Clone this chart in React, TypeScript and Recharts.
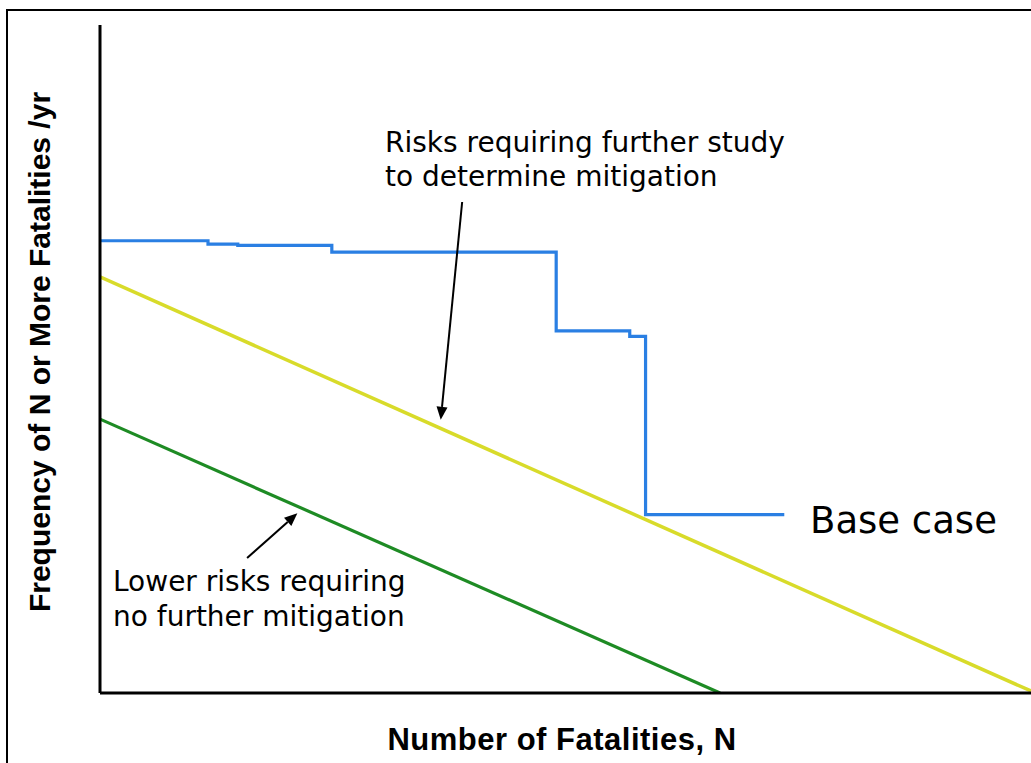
import React from "react";
import { LineChart, Line, XAxis, YAxis, ReferenceLine } from "recharts";

// Base case F-N curve (step), arbitrary units (x: 0-100, y: 0-100)
const baseCaseN = [0, 11.6, 14.8, 24.9, 49.0, 56.9, 58.6, 73.5];
const baseCaseF = [67.7, 67.2, 67.0, 66.0, 54.2, 53.4, 26.7, 26.7];

// Upper criterion line (yellow)
const upperN = [0, 100];
const upperF = [62.3, 0.3];

// Lower criterion line (green)
const lowerN = [0, 66.6];
const lowerF = [41.0, 0];

// Annotation arrows: tail -> tip
const arrowUpperTail = { x: 38.9, y: 73.5 };
const arrowUpperTip = { x: 36.6, y: 40.9 };
const arrowLowerTail = { x: 15.8, y: 20.2 };
const arrowLowerTip = { x: 21.2, y: 26.9 };

const baseCaseData = baseCaseN.map((n, i) => ({ n, f: baseCaseF[i] }));
const upperData = upperN.map((n, i) => ({ n, f: upperF[i] }));
const lowerData = lowerN.map((n, i) => ({ n, f: lowerF[i] }));

const Arrow = (props: any) => {
  const { x1, y1, x2, y2 } = props;
  if ([x1, y1, x2, y2].some((v) => typeof v !== "number" || isNaN(v))) return null;
  const dx = x2 - x1;
  const dy = y2 - y1;
  const len = Math.sqrt(dx * dx + dy * dy);
  const ux = dx / len;
  const uy = dy / len;
  const hl = 13;
  const hw = 5.5;
  const bx = x2 - ux * hl;
  const by = y2 - uy * hl;
  const p1 = `${x2},${y2}`;
  const p2 = `${bx - uy * hw},${by + ux * hw}`;
  const p3 = `${bx + uy * hw},${by - ux * hw}`;
  return (
    <g>
      <line x1={x1} y1={y1} x2={bx} y2={by} stroke="#000" strokeWidth={2} />
      <polygon points={`${p1} ${p2} ${p3}`} fill="#000" />
    </g>
  );
};

const annoFont = "'DejaVu Sans', Verdana, sans-serif";
const labelFont = "'Liberation Sans', Arial, sans-serif";

export default function App() {
  return (
    <div
      style={{
        position: "absolute",
        left: 0,
        top: 0,
        width: 1031,
        height: 763,
        overflow: "hidden",
        background: "#fff",
      }}
    >
      <div
        style={{
          position: "absolute",
          left: 6,
          top: 9,
          width: 1200,
          height: 900,
          border: "2.5px solid #000",
          boxSizing: "border-box",
        }}
      />
      <div style={{ position: "absolute", left: 0, top: 0 }}>
        <LineChart
          width={1031}
          height={763}
          margin={{ top: 25, right: 0, bottom: 69, left: 99 }}
        >
          <XAxis
            type="number"
            dataKey="n"
            domain={[0, 100]}
            allowDataOverflow
            tick={false}
            tickLine={false}
            height={1}
            axisLine={{ stroke: "#000", strokeWidth: 3 }}
          />
          <YAxis
            type="number"
            dataKey="f"
            domain={[0, 100]}
            allowDataOverflow
            tick={false}
            tickLine={false}
            width={1}
            axisLine={{ stroke: "#000", strokeWidth: 3 }}
          />
          <Line
            data={lowerData}
            dataKey="f"
            type="linear"
            stroke="#1E8B24"
            strokeWidth={3.2}
            dot={false}
            isAnimationActive={false}
          />
          <Line
            data={upperData}
            dataKey="f"
            type="linear"
            stroke="#D8DB2A"
            strokeWidth={3.5}
            dot={false}
            isAnimationActive={false}
          />
          <Line
            data={baseCaseData}
            dataKey="f"
            type="stepAfter"
            stroke="#2A7FE3"
            strokeWidth={3.2}
            dot={false}
            isAnimationActive={false}
          />
          <ReferenceLine
            segment={[arrowUpperTail, arrowUpperTip]}
            ifOverflow="visible"
            shape={Arrow}
          />
          <ReferenceLine
            segment={[arrowLowerTail, arrowLowerTip]}
            ifOverflow="visible"
            shape={Arrow}
          />
        </LineChart>
      </div>
      <svg
        width={1031}
        height={763}
        style={{ position: "absolute", left: 0, top: 0, pointerEvents: "none" }}
      >
        <text
          x={562}
          y={750}
          textAnchor="middle"
          fontFamily={labelFont}
          fontWeight="bold"
          fontSize={31}
          letterSpacing={0.5}
          fill="#000"
        >
          Number of Fatalities, N
        </text>
        <text
          transform="translate(50,352) rotate(-90)"
          textAnchor="middle"
          fontFamily={labelFont}
          fontWeight="bold"
          fontSize={30}
          fill="#000"
        >
          Frequency of N or More Fatalities /yr
        </text>
        <text fontFamily={annoFont} fontSize={28} fill="#000">
          <tspan x={385} y={152}>Risks requiring further study</tspan>
          <tspan x={385} y={186}>to determine mitigation</tspan>
        </text>
        <text fontFamily={annoFont} fontSize={28} fill="#000">
          <tspan x={113} y={591}>Lower risks requiring</tspan>
          <tspan x={113} y={626}>no further mitigation</tspan>
        </text>
        <text x={810} y={533} fontFamily={annoFont} fontSize={37} fill="#000">
          Base case
        </text>
      </svg>
    </div>
  );
}
